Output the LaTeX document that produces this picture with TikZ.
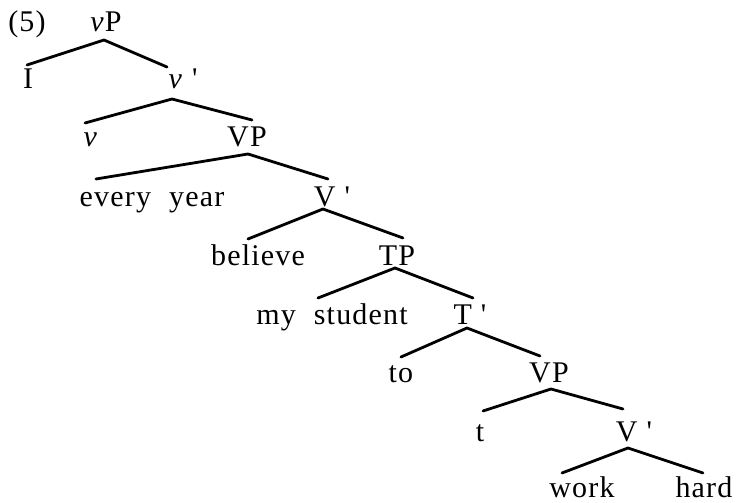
\documentclass[tikz,border=0pt]{standalone}
\usepackage{fontspec}
\setmainfont{Liberation Serif}[LetterSpace=4]
% same face without TeX ligatures, so ' stays a straight tick
\newfontfamily\plainserif{Liberation Serif}
\newcommand{\bprime}{\hspace{0.3em}{\plainserif '}}
\newcommand{\wgap}{\hspace{0.6em}}
\begin{document}
\begin{tikzpicture}[x=0.5pt, y=-0.5pt,
  lbl/.style={anchor=base, inner sep=0pt, font=\fontsize{15}{18}\selectfont},
  branch/.style={line width=1.4pt, line cap=round}]
\useasboundingbox (0,0) rectangle (736,503);

% example number
\node[lbl] (ex) at (27,32) {(5)};

% labels, one row per level
\node[lbl] (vP)    at (106,32)  {\textit{v}P};
\node[lbl] (I)     at (28,89)   {I};
\node[lbl] (vbar)  at (183,89)  {\textit{v}\bprime};
\node[lbl] (v)     at (91,147)  {\textit{v}};
\node[lbl] (VP1)   at (247,147) {VP};
\node[lbl] (every) at (152,206) {every\wgap year};
\node[lbl] (Vbar1) at (332,206) {V\bprime};
\node[lbl] (bel)   at (258,265) {believe};
\node[lbl] (TP)    at (397,265) {TP};
\node[lbl] (stud)  at (332,325) {my\wgap student};
\node[lbl] (Tbar)  at (470,325) {T\bprime};
\node[lbl] (to)    at (401,383) {to};
\node[lbl] (VP2)   at (549,383) {VP};
\node[lbl] (t)     at (480,442) {t};
\node[lbl] (Vbar2) at (634,442) {V\bprime};
\node[lbl] (work)  at (582,498) {work};
\node[lbl] (hard)  at (704,498) {hard};

% branching points under each mother node
\coordinate (vP-b)    at (104,40);
\coordinate (vbar-b)  at (172,99);
\coordinate (VP1-b)   at (248,154);
\coordinate (Vbar1-b) at (323,209);
\coordinate (TP-b)    at (395,268);
\coordinate (Tbar-b)  at (467,328);
\coordinate (VP2-b)   at (551,389);
\coordinate (Vbar2-b) at (628,448);

% line ends above each daughter node
\coordinate (I-t)     at (27,65);
\coordinate (vbar-t)  at (167,67);
\coordinate (v-t)     at (85,123);
\coordinate (VP1-t)   at (252,120);
\coordinate (every-t) at (96,179);
\coordinate (Vbar1-t) at (328,179);
\coordinate (bel-t)   at (248,239);
\coordinate (TP-t)    at (403,238);
\coordinate (stud-t)  at (318,298);
\coordinate (Tbar-t)  at (473,298);
\coordinate (to-t)    at (401,357);
\coordinate (VP2-t)   at (540,356);
\coordinate (t-t)     at (483,411);
\coordinate (Vbar2-t) at (623,409);
\coordinate (work-t)  at (562,473);
\coordinate (hard-t)  at (703,473);

\draw[branch] (I-t) -- (vP-b) -- (vbar-t);
\draw[branch] (v-t) -- (vbar-b) -- (VP1-t);
\draw[branch] (every-t) -- (VP1-b) -- (Vbar1-t);
\draw[branch] (bel-t) -- (Vbar1-b) -- (TP-t);
\draw[branch] (stud-t) -- (TP-b) -- (Tbar-t);
\draw[branch] (to-t) -- (Tbar-b) -- (VP2-t);
\draw[branch] (t-t) -- (VP2-b) -- (Vbar2-t);
\draw[branch] (work-t) -- (Vbar2-b) -- (hard-t);
\end{tikzpicture}
\end{document}
